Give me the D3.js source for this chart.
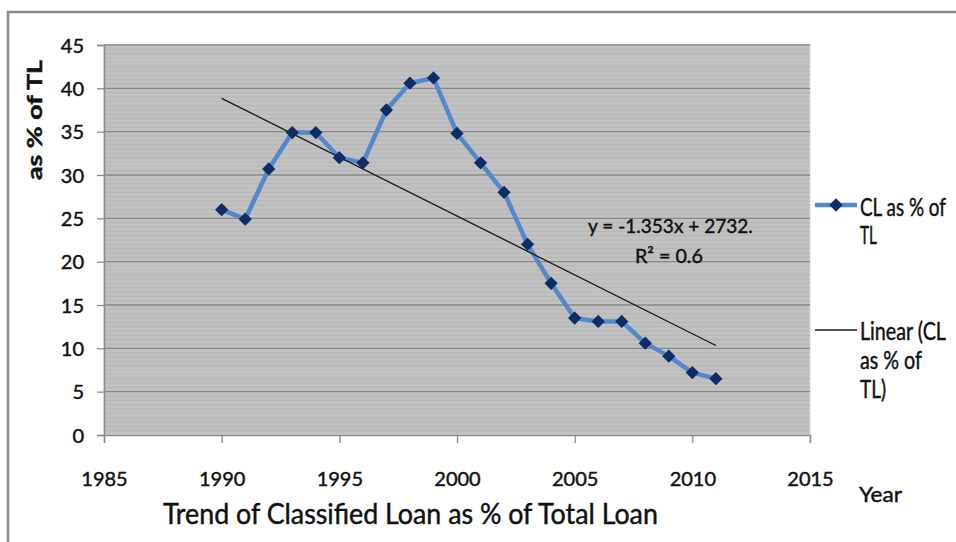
<!DOCTYPE html>
<html>
<head>
<meta charset="utf-8">
<script src="https://cdn.jsdelivr.net/npm/d3@7"></script>
<style>
html,body{margin:0;padding:0;background:#fff;}
svg{display:block;}
text{font-family:Lato,"Open Sans",sans-serif;fill:#111;stroke:#111;stroke-width:0.45px;}
</style>
</head>
<body>
<script>
// ---- data ----
const years = [1990,1991,1992,1993,1994,1995,1996,1997,1998,1999,2000,2001,2002,2003,2004,2005,2006,2007,2008,2009,2010,2011];
const clPct = [26.0,24.9,30.7,34.9,34.9,32.0,31.4,37.5,40.6,41.2,34.8,31.4,28.0,22.0,17.5,13.5,13.1,13.1,10.6,9.1,7.2,6.5];
const xTicks = [1985,1990,1995,2000,2005,2010,2015];
const yTicks = [0,5,10,15,20,25,30,35,40,45];
const titleText = "Trend of Classified Loan as % of Total Loan";
const yTitle = "as % of TL";
const xTitle = "Year";
const seriesLegend = ["CL as % of","TL"];
const trendLegend = ["Linear (CL","as % of","TL)"];
const eqLines = ["y = -1.353x + 2732.","R\u00B2 = 0.6"];

const W=956,H=542;
const svg=d3.select("body").append("svg").attr("width",W).attr("height",H);
svg.append("rect").attr("width",W).attr("height",H).attr("fill","#fff");
// outer chart border (extends past right/bottom)
svg.append("rect").attr("x",8).attr("y",12).attr("width",1100).attr("height",700)
  .attr("fill","none").attr("stroke","#8a8a8a").attr("stroke-width",2.5);

const x=d3.scaleLinear().domain([1985,2015]).range([104,810]);
const y=d3.scaleLinear().domain([0,45]).range([435,45]);

// plot area
svg.append("rect").attr("x",x(1985)).attr("y",y(45)).attr("width",x(2015)-x(1985)).attr("height",y(0)-y(45))
  .attr("fill","#c1c1c1").attr("stroke","#d8d8d8").attr("stroke-width",1);
// minor stripes
const minor=d3.range(0.5,45,0.5).filter(v=>v%5!==0);
svg.append("g").selectAll("line").data(minor).join("line")
  .attr("x1",x(1985)).attr("x2",x(2015)).attr("y1",d=>y(d)).attr("y2",d=>y(d))
  .attr("stroke","#b5b5b5").attr("stroke-width",1);
// major gridlines
svg.append("g").selectAll("line").data(yTicks.filter(v=>v>0)).join("line")
  .attr("x1",x(1985)).attr("x2",x(2015)).attr("y1",d=>y(d)).attr("y2",d=>y(d))
  .attr("stroke","#878787").attr("stroke-width",1.3);

// axes
const yAxis=d3.axisLeft(y).tickValues(yTicks).tickSize(7).tickPadding(13).tickFormat(d3.format("d"));
const gy=svg.append("g").attr("transform",`translate(${x(1985)},0)`).call(yAxis);
const xAxis=d3.axisBottom(x).tickValues(xTicks).tickSize(8).tickPadding(29).tickFormat(d3.format("d"));
const gx=svg.append("g").attr("transform",`translate(0,${y(0)})`).call(xAxis);
[gx,gy].forEach(g=>{
  g.select(".domain").attr("stroke","#8a8a8a").attr("stroke-width",1.5);
  g.selectAll(".tick line").attr("stroke","#8a8a8a").attr("stroke-width",1.3);
  g.selectAll(".tick text").style("font-family","Lato").style("font-size","20px")
    .attr("fill","#111").attr("stroke","#111").attr("stroke-width",0.45);
});
gy.selectAll(".tick text").attr("dy","0.36em");

// series line
svg.append("path").datum(years.map((yr,i)=>[yr,clPct[i]]))
  .attr("fill","none").attr("stroke","#5288cc").attr("stroke-width",4.5).attr("stroke-linejoin","round")
  .attr("d",d3.line().x(d=>x(d[0])).y(d=>y(d[1])));

// linear trend (least squares from the data)
const mx=d3.mean(years), my=d3.mean(clPct);
const slope=d3.sum(years,(yr,i)=>(yr-mx)*(clPct[i]-my))/d3.sum(years,yr=>(yr-mx)**2);
const icpt=my-slope*mx;
const xs=d3.extent(years);
svg.append("line").attr("x1",x(xs[0])).attr("y1",y(icpt+slope*xs[0]))
  .attr("x2",x(xs[1])).attr("y2",y(icpt+slope*xs[1]))
  .attr("stroke","#1a1a1a").attr("stroke-width",1.3);

// markers
const diamond=d3.symbol(d3.symbolSquare,88)();
svg.append("g").selectAll("path").data(years.map((yr,i)=>[yr,clPct[i]])).join("path")
  .attr("d",diamond).attr("fill","#0e2d66")
  .attr("transform",d=>`translate(${x(d[0])},${y(d[1])}) rotate(45)`);

// helper for text squeezed horizontally to a fixed width
function txt(str,xx,yy,size,len,opts={}){
  const t=svg.append("text").attr("x",0).attr("y",0).style("font-size",size+"px").text(str);
  if(opts.anchor) t.attr("text-anchor",opts.anchor);
  if(opts.weight) t.style("font-weight",opts.weight);
  const nat=t.node().getComputedTextLength();
  const sx=len?len/nat:1;
  const rot=opts.rotate?` rotate(${opts.rotate})`:"";
  t.attr("transform",`translate(${xx},${yy})${rot} scale(${sx},1)`);
  return t;
}

// equation
txt(eqLines[0],588,233,20,165);
txt(eqLines[1],635,263,20,68);

// titles
txt(titleText,163,524,29,495);
txt(xTitle,859,502,22,43);
txt(yTitle,42,120,21,120,{anchor:"middle",weight:"bold",rotate:-90});

// legend
svg.append("line").attr("x1",815).attr("x2",857).attr("y1",205).attr("y2",205)
  .attr("stroke","#5288cc").attr("stroke-width",4.5);
svg.append("path").attr("d",diamond).attr("fill","#0e2d66").attr("transform","translate(836,205) rotate(45)");
txt(seriesLegend[0],860,216,25,86);
txt(seriesLegend[1],860,244,25,17);
svg.append("line").attr("x1",815).attr("x2",857).attr("y1",330).attr("y2",330)
  .attr("stroke","#1a1a1a").attr("stroke-width",1.3);
txt(trendLegend[0],860,340,25,86);
txt(trendLegend[1],860,369,25,62);
txt(trendLegend[2],860,398,25,26);
</script>
</body>
</html>
